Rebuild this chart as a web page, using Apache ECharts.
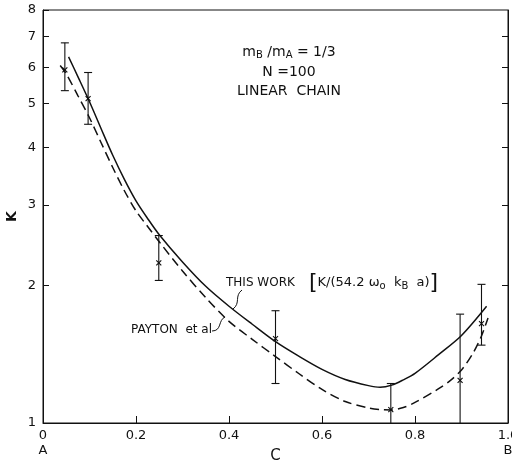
<!DOCTYPE html>
<html>
<head>
<meta charset="utf-8">
<script src="https://cdn.jsdelivr.net/npm/echarts@6/dist/echarts.min.js"></script>
<style>
html, body { margin: 0; padding: 0; background: #fff; }
#chart { width: 512px; height: 464px; }
</style>
</head>
<body>
<div id="chart"></div>
<script>
// values

const kTicks = [1, 2, 3, 4, 5, 6, 7, 8];
const kRightTicks = [2, 3, 4, 5, 6, 7];

// solid curve: THIS WORK
const thisWorkC = [0.055, 0.075, 0.10, 0.125, 0.15, 0.175, 0.20, 0.225, 0.25, 0.30, 0.35, 0.40, 0.45, 0.50, 0.55, 0.60, 0.65, 0.70, 0.725, 0.75, 0.775, 0.80, 0.85, 0.90, 0.954];
const thisWorkK = [6.32, 5.72, 5.04, 4.40, 3.85, 3.41, 3.06, 2.80, 2.58, 2.25, 1.99, 1.80, 1.644, 1.506, 1.40, 1.31, 1.245, 1.207, 1.197, 1.21, 1.243, 1.284, 1.409, 1.554, 1.80];

// dashed curve: PAYTON et al
const paytonC = [0.037, 0.05, 0.075, 0.10, 0.125, 0.15, 0.175, 0.20, 0.225, 0.25, 0.30, 0.35, 0.40, 0.45, 0.50, 0.55, 0.60, 0.65, 0.70, 0.725, 0.75, 0.775, 0.80, 0.85, 0.875, 0.90, 0.925, 0.943, 0.957];
const paytonK = [6.05, 5.80, 5.20, 4.65, 4.10, 3.62, 3.22, 2.91, 2.69, 2.49, 2.15, 1.88, 1.668, 1.524, 1.397, 1.283, 1.184, 1.114, 1.079, 1.070, 1.068, 1.081, 1.109, 1.187, 1.236, 1.306, 1.423, 1.55, 1.697];

// simulation points with error bars (low of 1 = runs down to the axis)
const simC = [0.047, 0.097, 0.249, 0.50, 0.748, 0.897, 0.943];
const simK = [5.92, 5.12, 2.24, 1.53, 1.07, 1.24, 1.65];
const simLow = [5.33, 4.50, 2.05, 1.22, 1.0, 1.0, 1.48];
const simHigh = [6.78, 5.84, 2.57, 1.76, 1.22, 1.73, 2.01];

const INK = "#111";
const FONT = "DejaVu Sans";

function zip(a, b)
{
    return a.map(function (v, i) { return [v, b[i]]; });
}

const simData = simC.map(function (c, i)
{
    return [c, simK[i], simLow[i], simHigh[i]];
});

function renderErrorBar(params, api)
{
    const c = api.value(0);
    const lo = api.value(2);
    const pHi = api.coord([c, api.value(3)]);
    const pLo = api.coord([c, lo]);
    const pMid = api.coord([c, api.value(1)]);
    const cap = 4;
    const m = 2.5;
    const st = { stroke: INK, lineWidth: 1.1 };

    const kids = [
        { type: "line", shape: { x1: pHi[0], y1: pHi[1], x2: pLo[0], y2: pLo[1] }, style: st },
        { type: "line", shape: { x1: pHi[0] - cap, y1: pHi[1], x2: pHi[0] + cap, y2: pHi[1] }, style: st },
        { type: "line", shape: { x1: pMid[0] - m, y1: pMid[1] - m, x2: pMid[0] + m, y2: pMid[1] + m }, style: st },
        { type: "line", shape: { x1: pMid[0] - m, y1: pMid[1] + m, x2: pMid[0] + m, y2: pMid[1] - m }, style: st }
    ];
    if (lo > 1)
    {
        kids.push({ type: "line", shape: { x1: pLo[0] - cap, y1: pLo[1], x2: pLo[0] + cap, y2: pLo[1] }, style: st });
    }
    return { type: "group", children: kids };
}

const chart = echarts.init(document.getElementById("chart"), null, { renderer: "canvas" });

chart.setOption({
    backgroundColor: "#fff",
    animation: false,
    grid: {
        left: 43, right: 4, top: 10, bottom: 41,
        containLabel: false,
        outerBoundsMode: "none",
        show: true, borderColor: INK, borderWidth: 1
    },
    xAxis: {
        type: "value",
        min: 0, max: 1, interval: 0.2,
        name: "C",
        nameLocation: "middle",
        nameGap: 26,
        nameMoveOverlap: false,
        nameTextStyle: { color: INK, fontSize: 15, fontFamily: FONT },
        axisLine: { lineStyle: { color: INK, width: 1 } },
        axisTick: { inside: true, length: 7, lineStyle: { color: INK } },
        axisLabel: {
            color: INK, fontSize: 13, fontFamily: FONT, margin: 5, lineHeight: 15,
            formatter: function (v)
            {
                if (v === 0) return "0\nA";
                if (v === 1) return "1.0\nB";
                return v.toFixed(1);
            }
        },
        splitLine: { show: false }
    },
    yAxis: [{
        type: "log",
        logBase: 10,
        min: 1, max: 8,
        name: "K",
        nameLocation: "middle",
        nameGap: 24,
        nameRotate: 90,
        nameMoveOverlap: false,
        nameTextStyle: { color: INK, fontSize: 14, fontWeight: "bold", fontFamily: FONT },
        axisLine: { show: true, lineStyle: { color: INK, width: 1 } },
        axisTick: { show: true, inside: true, length: 6, customValues: kTicks, lineStyle: { color: INK } },
        axisLabel: { color: INK, fontSize: 13, fontFamily: FONT, margin: 7, customValues: kTicks },
        splitLine: { show: false },
        minorTick: { show: false }
    }, {
        type: "log",
        logBase: 10,
        min: 1, max: 8,
        position: "right",
        axisLine: { show: true, lineStyle: { color: INK, width: 1 } },
        axisTick: { show: true, inside: true, length: 6, customValues: kRightTicks, lineStyle: { color: INK } },
        axisLabel: { show: false },
        splitLine: { show: false }
    }],
    series: [{
        name: "THIS WORK",
        type: "line",
        data: zip(thisWorkC, thisWorkK),
        smooth: 0.3,
        showSymbol: false,
        lineStyle: { color: INK, width: 1.5 }
    }, {
        name: "PAYTON et al",
        type: "line",
        data: zip(paytonC, paytonK),
        smooth: 0.3,
        showSymbol: false,
        lineStyle: { color: INK, width: 1.5, type: [9, 5] }
    }, {
        name: "simulation",
        type: "custom",
        data: simData,
        renderItem: renderErrorBar,
        z: 5
    }],
    graphic: [
        {
            type: "text", x: 289, y: 52,
            style: {
                text: "m{s|B} /m{s|A} = 1/3",
                fill: INK, font: "14px " + FONT, align: "center", verticalAlign: "middle",
                rich: { s: { fontSize: 10, fontFamily: FONT, padding: [7, 0, 0, 0], fill: INK } }
            }
        },
        {
            type: "text", x: 289, y: 72,
            style: { text: "N =100", fill: INK, font: "14px " + FONT, align: "center", verticalAlign: "middle" }
        },
        {
            type: "text", x: 289, y: 91,
            style: { text: "LINEAR  CHAIN", fill: INK, font: "14px " + FONT, align: "center", verticalAlign: "middle" }
        },
        {
            type: "text", x: 226, y: 283,
            style: { text: "THIS WORK", fill: INK, font: "12px " + FONT, align: "left", verticalAlign: "middle" }
        },
        {
            type: "text", x: 309, y: 283,
            style: {
                text: "{b|[}K/(54.2 ω{s|o}  k{s|B}  a){b|]}",
                fill: INK, font: "13px " + FONT, align: "left", verticalAlign: "middle",
                rich: {
                    s: { fontSize: 10, fontFamily: FONT, padding: [7, 0, 0, 0], fill: INK },
                    b: { fontSize: 22, fontFamily: FONT, fill: INK }
                }
            }
        },
        {
            type: "text", x: 131, y: 330,
            style: { text: "PAYTON  et al", fill: INK, font: "12px " + FONT, align: "left", verticalAlign: "middle" }
        },
        {
            type: "bezierCurve",
            shape: { x1: 242, y1: 290, x2: 233, y2: 309, cpx1: 234, cpy1: 296, cpx2: 241, cpy2: 303 },
            style: { stroke: INK, lineWidth: 1, fill: null }
        },
        {
            type: "bezierCurve",
            shape: { x1: 212, y1: 331, x2: 225, y2: 317, cpx1: 222, cpy1: 331, cpx2: 218, cpy2: 320 },
            style: { stroke: INK, lineWidth: 1, fill: null }
        }
    ]
});
</script>
</body>
</html>
